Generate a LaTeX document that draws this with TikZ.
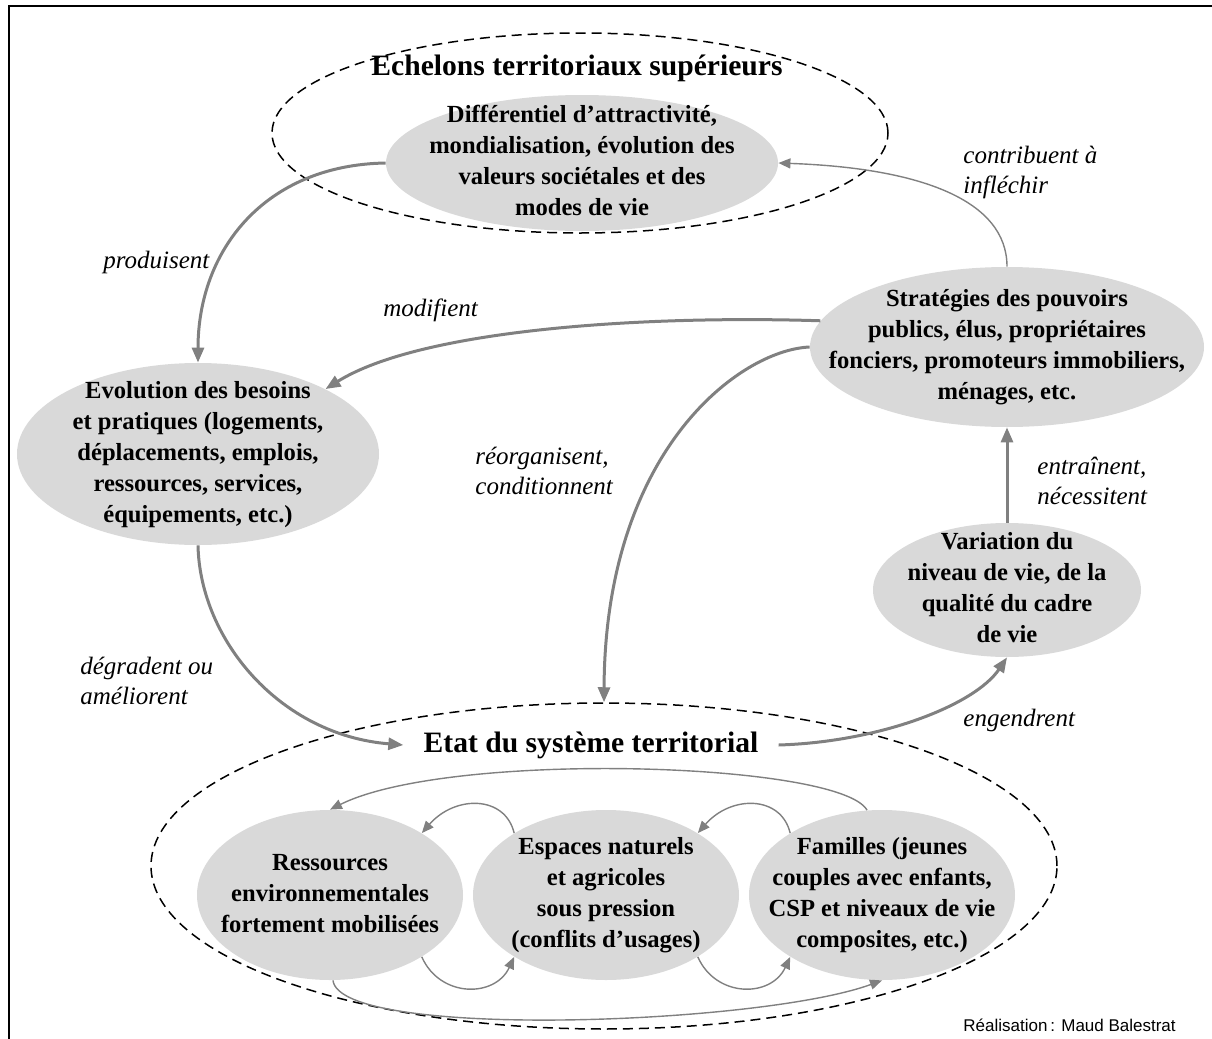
\documentclass[tikz,border=0pt]{standalone}
\usepackage{fontspec}
\setmainfont{Liberation Serif}
\newfontfamily\creditfont{Liberation Sans}
\usetikzlibrary{arrows.meta,shapes.geometric}
\definecolor{ovalgray}{RGB}{217,217,217}
\definecolor{linkgray}{RGB}{128,128,128}
% text of an oval, kept out of the size of the shape
\newcommand{\ovaltext}[1]{\makebox[0pt]{\raisebox{-3pt}[0pt][0pt]{\begin{tabular}{@{}c@{}}#1\end{tabular}}}}

\begin{document}
\begin{tikzpicture}[x=0.5pt, y=-0.5pt,
    oval/.style={ellipse, fill=ovalgray, inner sep=0pt, font=\fontsize{12.3}{15.5}\selectfont\bfseries},
    zone/.style={ellipse, draw, dash pattern=on 5pt off 3pt, line width=0.75pt, inner sep=0pt},
    verb/.style={anchor=west, align=left, inner sep=0pt, font=\fontsize{12.5}{15}\selectfont\itshape},
    heading/.style={inner sep=1pt, font=\fontsize{14.8}{17}\selectfont\bfseries},
    biglink/.style={draw=linkgray, line width=1.5pt, -{Triangle[length=7.5pt,width=6pt]}},
    smalllink/.style={draw=linkgray, line width=0.7pt, -{Triangle[length=6pt,width=5pt]}}]
    \useasboundingbox (0,0) rectangle (1212,1039);
    \draw[line width=1pt] (9,1039) -- (9,6) -- (1212,6);

    % the two territorial levels
    \node[zone, minimum width=308pt, minimum height=100pt] (echelons) at (580,133) {};
    \node[zone, minimum width=453pt, minimum height=163pt] (systeme) at (604,866) {};
    \node[heading] (echelonstitle) at (577,68) {Echelons territoriaux supérieurs};
    \node[heading, inner xsep=10pt] (etat) at (591,745) {Etat du système territorial};

    % ovals
    \node[oval, minimum width=196pt, minimum height=68pt] (diff) at (582,163) {\ovaltext{Différentiel d’attractivité,\\mondialisation, évolution des\\valeurs sociétales et des\\modes de vie}};
    \node[oval, minimum width=181pt, minimum height=91pt] (evol) at (198,454) {\ovaltext{Evolution des besoins\\et pratiques (logements,\\déplacements, emplois,\\ressources, services,\\équipements, etc.)}};
    \node[oval, minimum width=197pt, minimum height=80pt] (strat) at (1007,347) {\ovaltext{Stratégies des pouvoirs\\publics, élus, propriétaires\\fonciers, promoteurs immobiliers,\\ménages, etc.}};
    \node[oval, minimum width=134pt, minimum height=67pt] (varia) at (1007,590) {\ovaltext{Variation du\\niveau de vie, de la\\qualité du cadre\\de vie}};
    \node[oval, minimum width=133pt, minimum height=85pt] (ress) at (330,895) {\ovaltext{Ressources\\environnementales\\fortement mobilisées}};
    \node[oval, minimum width=133pt, minimum height=85pt] (esp) at (606,895) {\ovaltext{Espaces naturels\\et agricoles\\sous pression\\(conflits d’usages)}};
    \node[oval, minimum width=133pt, minimum height=85pt] (fam) at (882,895) {\ovaltext{Familles (jeunes\\couples avec enfants,\\CSP et niveaux de vie\\composites, etc.)}};

    % verbs
    \node[verb] (produisent) at (103,262) {produisent};
    \node[verb] (modifient) at (383,310) {modifient};
    \node[verb] (contribuent) at (963,172) {contribuent à\\infléchir};
    \node[verb] (reorganisent) at (475,471) {réorganisent,\\conditionnent};
    \node[verb] (entrainent) at (1037,481) {entraînent,\\nécessitent};
    \node[verb] (degradent) at (80,681) {dégradent ou\\améliorent};
    \node[verb] (engendrent) at (963,720) {engendrent};
    \node[anchor=west, inner sep=0pt, font=\creditfont\fontsize{8.5}{10}\selectfont] (credit) at (963,1025) {Réalisation\,: Maud Balestrat};

    % links
    \draw[biglink] (diff.west) .. controls (265,165) and (198,250) .. (evol.north);
    \draw[biglink] (strat.172) .. controls (640,315) and (420,330) .. (evol.27);
    \draw[smalllink] (strat.north) .. controls (1007,200) and (920,168) .. (diff.east);
    \draw[biglink] (strat.west) .. controls (740,350) and (605,450) .. (systeme.north);
    \draw[biglink] (varia.north) -- (strat.south);
    \draw[biglink] (evol.south) .. controls (200,640) and (280,735) .. (etat.west);
    \draw[biglink] (etat.east) .. controls (880,742) and (975,705) .. (varia.south);

    % links inside the territorial system
    \draw[smalllink] (esp.146) .. controls (505,795) and (455,795) .. (ress.34);
    \draw[smalllink] (fam.146) .. controls (781,795) and (731,795) .. (esp.34);
    \draw[smalllink] (ress.-34) .. controls (440,998) and (495,998) .. (esp.214);
    \draw[smalllink] (esp.-34) .. controls (716,998) and (771,998) .. (fam.214);
    \draw[smalllink] (fam.100) .. controls (840,762) and (450,750) .. (ress.north);
    \draw[smalllink] (ress.-88) .. controls (340,1040) and (760,1025) .. (fam.south);
\end{tikzpicture}
\end{document}
